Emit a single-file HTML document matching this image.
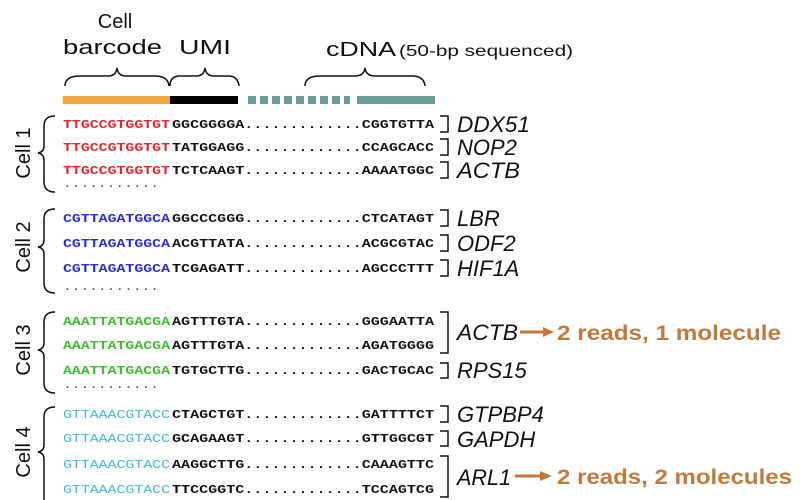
<!DOCTYPE html>
<html><head><style>body{margin:0;background:#fff}svg{display:block}</style></head><body>
<svg width="800" height="500" viewBox="0 0 800 500" xmlns="http://www.w3.org/2000/svg" font-family="Liberation Sans, sans-serif">
<g font-size="20" fill="#111">
<text x="115" y="28" text-anchor="middle">Cell</text>
<text x="63" y="54" textLength="99" lengthAdjust="spacingAndGlyphs">barcode</text>
<text x="179" y="54" textLength="52" lengthAdjust="spacingAndGlyphs">UMI</text>
<text x="326" y="56" textLength="70" lengthAdjust="spacingAndGlyphs">cDNA</text>
<text x="399" y="56" font-size="16" textLength="174" lengthAdjust="spacingAndGlyphs">(50-bp sequenced)</text>
</g>
<g fill="none" stroke="#111" stroke-width="1.5">
<path d="M65,86 Q65,76 80,76 L108,76 Q116,76 117,68 Q118,76 126,76 L155,76 Q168,76 169,86"/>
<path d="M170,86 Q170,76 180,76 L196,76 Q204,76 205,68 Q206,76 214,76 L228,76 Q238,76 239,86"/>
<path d="M305,86 Q305,76 320,76 L355,76 Q364,76 365,68 Q366,76 375,76 L412,76 Q424,76 425,86"/>
</g>
<rect x="63" y="96" width="107" height="8" fill="#f2a540"/>
<rect x="170" y="96" width="68" height="8" fill="#000"/>
<g fill="#6a9e98">
<rect x="248" y="96" width="8" height="8"/><rect x="260" y="96" width="8" height="8"/><rect x="272" y="96" width="8" height="8"/><rect x="284" y="96" width="8" height="8"/><rect x="296" y="96" width="8" height="8"/><rect x="308" y="96" width="8" height="8"/><rect x="320" y="96" width="8" height="8"/><rect x="332" y="96" width="8" height="8"/><rect x="344" y="96" width="6" height="8"/>
<rect x="357" y="96" width="78" height="8"/>
</g>
<g font-family="Liberation Mono, monospace" font-weight="bold" font-size="12">
<g fill="#e8232a">
<text x="63" y="128" textLength="107" lengthAdjust="spacingAndGlyphs">TTGCCGTGGTGT</text>
<text x="63" y="151" textLength="107" lengthAdjust="spacingAndGlyphs">TTGCCGTGGTGT</text>
<text x="63" y="174" textLength="107" lengthAdjust="spacingAndGlyphs">TTGCCGTGGTGT</text>
</g>
<g fill="#111">
<text x="172" y="128" textLength="262" lengthAdjust="spacingAndGlyphs">GGCGGGGA.............CGGTGTTA</text>
<text x="172" y="151" textLength="262" lengthAdjust="spacingAndGlyphs">TATGGAGG.............CCAGCACC</text>
<text x="172" y="174" textLength="262" lengthAdjust="spacingAndGlyphs">TCTCAAGT.............AAAATGGC</text>
<text x="63" y="187" font-weight="normal" fill="#555" textLength="96" lengthAdjust="spacingAndGlyphs">...........</text>
<text x="172" y="222" textLength="262" lengthAdjust="spacingAndGlyphs">GGCCCGGG.............CTCATAGT</text>
<text x="172" y="247" textLength="262" lengthAdjust="spacingAndGlyphs">ACGTTATA.............ACGCGTAC</text>
<text x="172" y="272" textLength="262" lengthAdjust="spacingAndGlyphs">TCGAGATT.............AGCCCTTT</text>
<text x="63" y="290" font-weight="normal" fill="#555" textLength="96" lengthAdjust="spacingAndGlyphs">...........</text>
<text x="172" y="325" textLength="262" lengthAdjust="spacingAndGlyphs">AGTTTGTA.............GGGAATTA</text>
<text x="172" y="349" textLength="262" lengthAdjust="spacingAndGlyphs">AGTTTGTA.............AGATGGGG</text>
<text x="172" y="374" textLength="262" lengthAdjust="spacingAndGlyphs">TGTGCTTG.............GACTGCAC</text>
<text x="63" y="388" font-weight="normal" fill="#555" textLength="96" lengthAdjust="spacingAndGlyphs">...........</text>
<text x="172" y="418" textLength="262" lengthAdjust="spacingAndGlyphs">CTAGCTGT.............GATTTTCT</text>
<text x="172" y="442" textLength="262" lengthAdjust="spacingAndGlyphs">GCAGAAGT.............GTTGGCGT</text>
<text x="172" y="468" textLength="262" lengthAdjust="spacingAndGlyphs">AAGGCTTG.............CAAAGTTC</text>
<text x="172" y="493" textLength="262" lengthAdjust="spacingAndGlyphs">TTCCGGTC.............TCCAGTCG</text>
</g>
<g fill="#2a2ae0">
<text x="63" y="222" textLength="107" lengthAdjust="spacingAndGlyphs">CGTTAGATGGCA</text>
<text x="63" y="247" textLength="107" lengthAdjust="spacingAndGlyphs">CGTTAGATGGCA</text>
<text x="63" y="272" textLength="107" lengthAdjust="spacingAndGlyphs">CGTTAGATGGCA</text>
</g>
<g fill="#3cbf2a">
<text x="63" y="325" textLength="107" lengthAdjust="spacingAndGlyphs">AAATTATGACGA</text>
<text x="63" y="349" textLength="107" lengthAdjust="spacingAndGlyphs">AAATTATGACGA</text>
<text x="63" y="374" textLength="107" lengthAdjust="spacingAndGlyphs">AAATTATGACGA</text>
</g>
<g fill="#3cb8e0" font-weight="normal">
<text x="63" y="418" textLength="107" lengthAdjust="spacingAndGlyphs">GTTAAACGTACC</text>
<text x="63" y="442" textLength="107" lengthAdjust="spacingAndGlyphs">GTTAAACGTACC</text>
<text x="63" y="468" textLength="107" lengthAdjust="spacingAndGlyphs">GTTAAACGTACC</text>
<text x="63" y="493" textLength="107" lengthAdjust="spacingAndGlyphs">GTTAAACGTACC</text>
</g>
</g>
<g fill="none" stroke="#111" stroke-width="1.5">
<path d="M440,116 H448 V132 H440"/><path d="M440,139 H448 V155 H440"/><path d="M440,162 H448 V178 H440"/>
<path d="M440,210 H448 V226 H440"/><path d="M440,235 H448 V251 H440"/><path d="M440,260 H448 V276 H440"/>
<path d="M440,312 H448 V353 H440"/><path d="M440,363 H448 V378 H440"/>
<path d="M440,406 H448 V422 H440"/><path d="M440,431 H448 V446 H440"/><path d="M440,456 H448 V497 H440"/>
<path d="M55,116 Q44,116 44,126 L44,146 Q44,152 38,153 Q44,154 44,160 L44,182 Q44,192 55,192"/>
<path d="M55,209 Q44,209 44,219 L44,240 Q44,246 38,247 Q44,248 44,254 L44,283 Q44,293 55,293"/>
<path d="M55,312 Q44,312 44,322 L44,343 Q44,349 38,350 Q44,351 44,357 L44,383 Q44,393 55,393"/>
<path d="M55,407 Q44,407 44,417 L44,445 Q44,451 38,452 Q44,453 44,459 L44,500"/>
</g>
<g font-size="20" fill="#111">
<text transform="translate(30,153) rotate(-90)" text-anchor="middle">Cell 1</text>
<text transform="translate(30,247) rotate(-90)" text-anchor="middle">Cell 2</text>
<text transform="translate(30,350) rotate(-90)" text-anchor="middle">Cell 3</text>
<text transform="translate(30,452) rotate(-90)" text-anchor="middle">Cell 4</text>
</g>
<g font-size="22" font-style="italic" fill="#111">
<text x="457" y="132" textLength="73" lengthAdjust="spacingAndGlyphs">DDX51</text>
<text x="457" y="155">NOP2</text>
<text x="457" y="178" textLength="63" lengthAdjust="spacingAndGlyphs">ACTB</text>
<text x="457" y="226">LBR</text>
<text x="457" y="251">ODF2</text>
<text x="457" y="276">HIF1A</text>
<text x="457" y="340" textLength="61" lengthAdjust="spacingAndGlyphs">ACTB</text>
<text x="457" y="378">RPS15</text>
<text x="457" y="422">GTPBP4</text>
<text x="457" y="447">GAPDH</text>
<text x="457" y="485" textLength="54" lengthAdjust="spacingAndGlyphs">ARL1</text>
</g>
<g fill="#c27a3c" stroke="#c27a3c">
<line x1="520" y1="332" x2="545" y2="332" stroke-width="3"/>
<polygon points="543,327 554,332 543,337" stroke="none"/>
<line x1="515" y1="476" x2="542" y2="476" stroke-width="3"/>
<polygon points="540,471 552,476 540,481" stroke="none"/>
</g>
<g font-size="21" font-weight="bold" fill="#c27a3c">
<text x="557" y="340" textLength="224" lengthAdjust="spacingAndGlyphs">2 reads, 1 molecule</text>
<text x="557" y="484" textLength="235" lengthAdjust="spacingAndGlyphs">2 reads, 2 molecules</text>
</g>
</svg>
</body></html>
